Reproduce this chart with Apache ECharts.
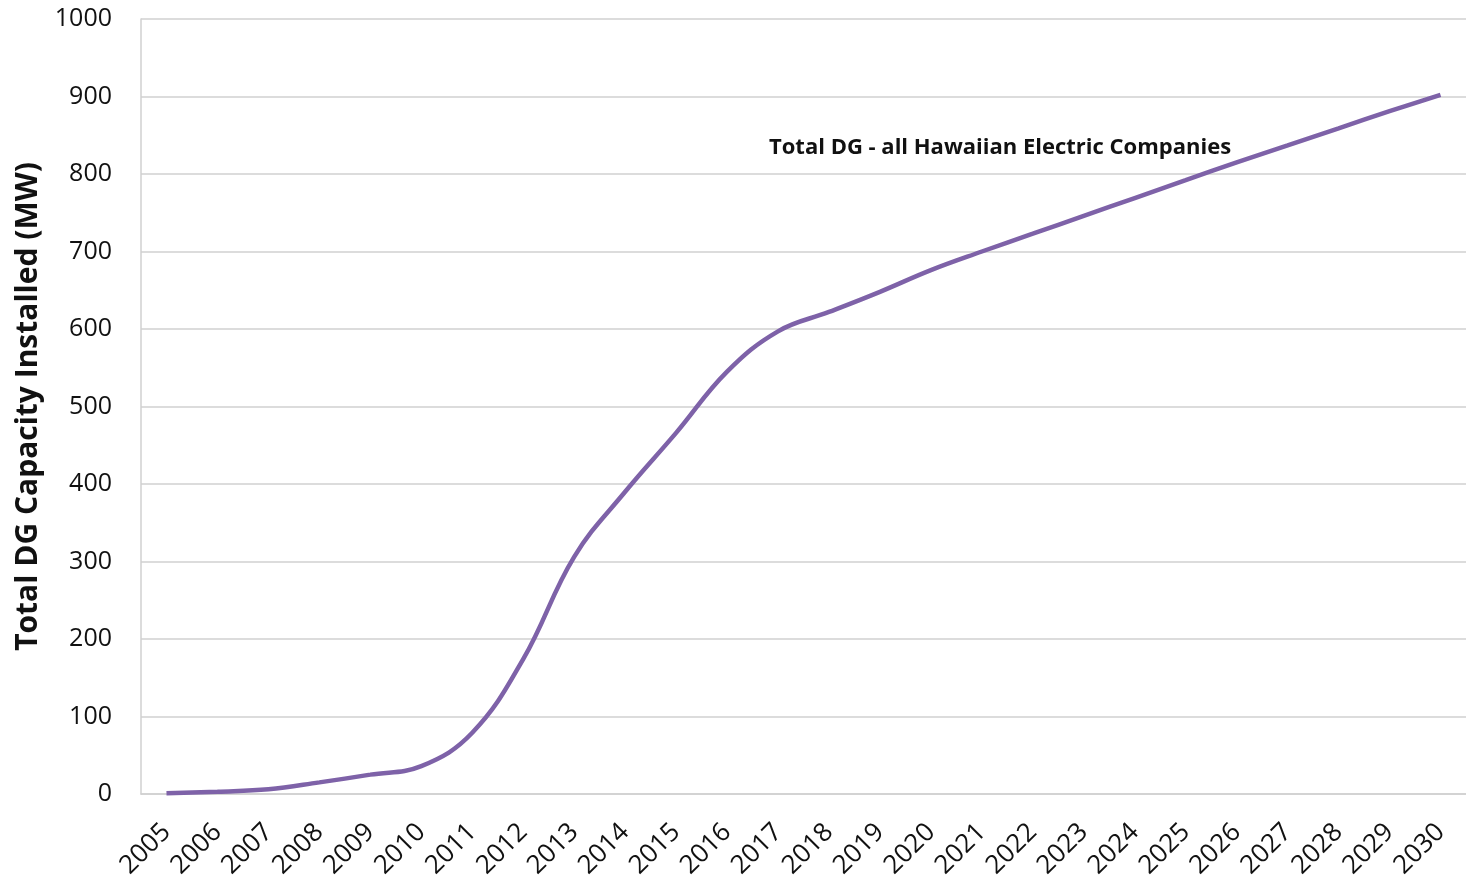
<!DOCTYPE html>
<html><head><meta charset="utf-8">
<script src="https://cdn.jsdelivr.net/npm/echarts@6/dist/echarts.min.js"></script>
<style>html,body{margin:0;padding:0;background:#fff}#c{width:1466px;height:879px}</style>
</head><body><div id="c"></div>
<script>
const years = ['2005','2006','2007','2008','2009','2010','2011','2012','2013','2014','2015','2016','2017','2018','2019','2020','2021','2022','2023','2024','2025','2026','2027','2028','2029','2030'];
const totalDG = [1,3,6,15,25,36,79,174,306,390,466,545,597,622,648,676,700,723,746,769,792,815,837,859,881,902];
const yTicks = [0,100,200,300,400,500,600,700,800,900,1000];
const seriesLabel = 'Total DG - all Hawaiian Electric Companies';
const yTitle = 'Total DG Capacity Installed (MW)';

const chart = echarts.init(document.getElementById('c'));
chart.setOption({
  animation:false,
  grid:{left:141,right:0,top:19,bottom:85,containLabel:false,outerBoundsMode:'none'},
  xAxis:{type:'category',data:years,boundaryGap:true,
    axisLine:{lineStyle:{color:'#d0d0d0',width:1.5}},axisTick:{show:false},
    axisLabel:{rotate:45,fontSize:26,color:'#111',fontFamily:'Open Sans',margin:34,interval:0}},
  yAxis:{type:'value',min:yTicks[0],max:yTicks[yTicks.length-1],interval:100,
    name:yTitle,nameLocation:'middle',nameGap:96,
    nameTextStyle:{fontSize:30,fontWeight:'bold',color:'#111',fontFamily:'Open Sans'},
    axisLine:{show:true,lineStyle:{color:'#d0d0d0',width:1.5}},axisTick:{show:false},
    splitLine:{lineStyle:{color:'#d0d0d0',width:1.5}},
    axisLabel:{fontSize:25,color:'#111',fontFamily:'Open Sans',margin:29,formatter:v=>String(v)}},
  graphic:[{type:'text',left:769,top:137,style:{text:seriesLabel,fontSize:22,fontWeight:'bold',fill:'#111',fontFamily:'Open Sans'}}],
  series:[{type:'line',name:seriesLabel,data:totalDG,smooth:0.4,showSymbol:false,
    lineStyle:{color:'#7E62A8',width:4.5}}]
});
</script></body></html>
